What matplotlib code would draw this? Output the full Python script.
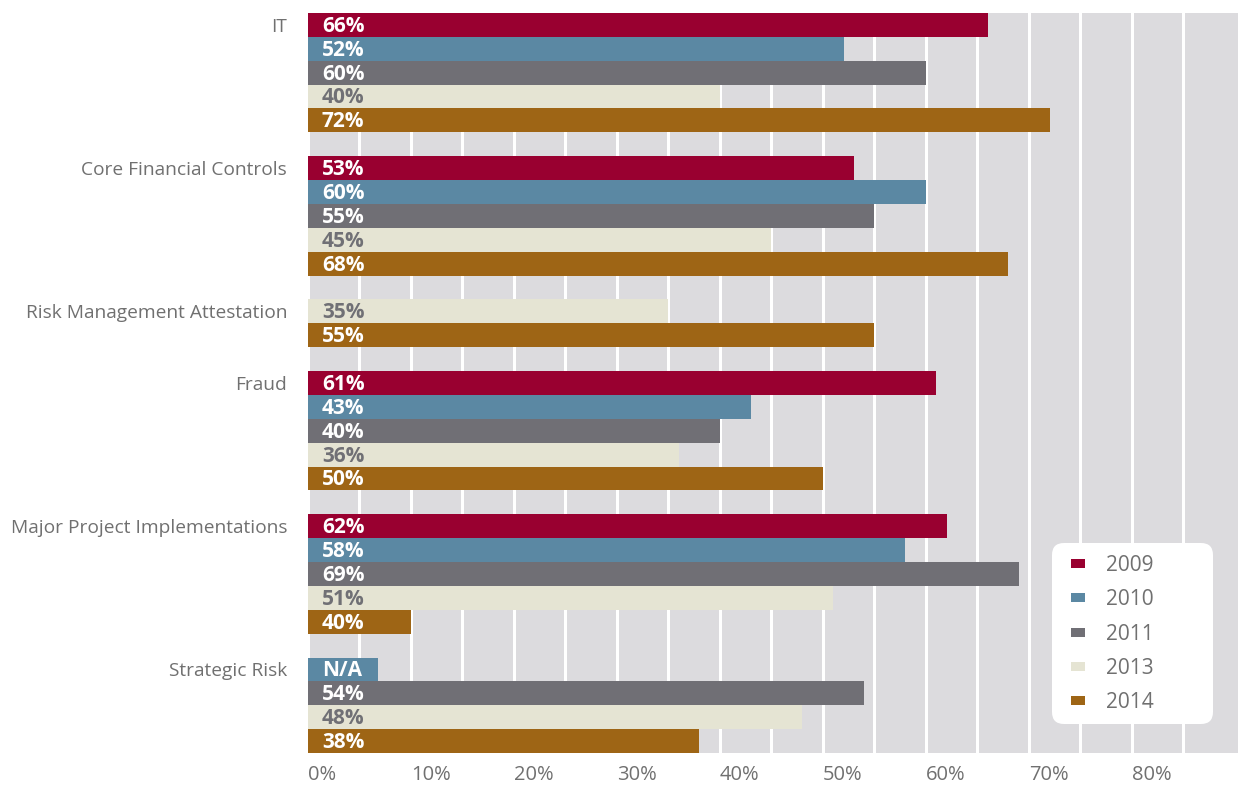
import matplotlib
matplotlib.use("Agg")
import matplotlib.pyplot as plt
from matplotlib.patches import Patch, FancyBboxPatch
from matplotlib.transforms import IdentityTransform

plt.rcParams['font.family'] = ['Open Sans', 'DejaVu Sans']

categories = ["IT", "Core Financial Controls", "Risk Management Attestation",
              "Fraud", "Major Project Implementations", "Strategic Risk"]
years = ["2009", "2010", "2011", "2013", "2014"]
colors = ["#990030", "#5b88a3", "#706f75", "#e5e4d3", "#9e6515"]
label_colors = ["white", "white", "white", "#707075", "white"]

# bar lengths (percent) as drawn, None = no bar
v2009 = [66, 53, None, 61, 62, None]
v2010 = [52, 60, None, 43, 58, 6.8]
v2011 = [60, 55, None, 40, 69, 54]
v2013 = [40, 45, 35, 36, 51, 48]
v2014 = [72, 68, 55, 50, 10, 38]

# printed labels
l2009 = ["66%", "53%", None, "61%", "62%", None]
l2010 = ["52%", "60%", None, "43%", "58%", "N/A"]
l2011 = ["60%", "55%", None, "40%", "69%", "54%"]
l2013 = ["40%", "45%", "35%", "36%", "51%", "48%"]
l2014 = ["72%", "68%", "55%", "50%", "40%", "38%"]

values = [v2009, v2010, v2011, v2013, v2014]
labels = [l2009, l2010, l2011, l2013, l2014]

gray = "#707070"

fig = plt.figure(figsize=(12.4, 7.87), dpi=100)
ax = fig.add_axes([308 / 1240, 34 / 787, 930 / 1240, 740 / 787])
ax.set_facecolor("#dcdbde")

slot = 0
first_slots = []
for i, cat in enumerate(categories):
    first = None
    for j in range(len(years)):
        v = values[j][i]
        if v is None:
            continue
        if first is None:
            first = slot
        ax.barh(slot, v, height=1.0, color=colors[j], zorder=3)
        ax.annotate(labels[j][i], (0, slot), xytext=(10, -1), textcoords="offset points",
                    va="center", ha="left", color=label_colors[j],
                    fontsize=15, fontweight="bold", zorder=4)
        slot += 1
    first_slots.append(first)
    slot += 1
n_slots = slot - 1

ax.set_ylim(n_slots - 0.5, -0.5)
ax.set_xlim(0, 90.3)

ax.set_xticks(range(0, 90, 10))
ax.set_xticklabels([f"{t}%" for t in range(0, 90, 10)], ha="left")
ax.set_xticks(range(5, 90, 10), minor=True)
ax.grid(True, axis="x", which="both", color="white", linewidth=2.2, zorder=1)
ax.set_axisbelow(True)

ax.set_yticks(first_slots)
ax.set_yticklabels(categories)

ax.tick_params(axis="x", which="both", length=0, pad=9, labelsize=14.5, labelcolor=gray)
ax.tick_params(axis="y", length=0, pad=15, labelsize=13.8, labelcolor=gray)
for sp in ax.spines.values():
    sp.set_visible(False)

# legend background box
box = FancyBboxPatch((1052, 787 - 724), 161, 181,
                     boxstyle="round,pad=0,rounding_size=12",
                     transform=IdentityTransform(), facecolor="white",
                     edgecolor="none", zorder=5)
fig.patches.append(box)

handles = [Patch(facecolor=c, edgecolor="none", label=y) for c, y in zip(colors, years)]
leg = fig.legend(handles=handles, loc="upper left",
                 bbox_to_anchor=(1071 / 1240, 1 - 555 / 787),
                 frameon=False, fontsize=15, borderpad=0, borderaxespad=0,
                 handlelength=0.67, handleheight=0.29, handletextpad=1.0,
                 labelspacing=0.64)
for t in leg.get_texts():
    t.set_color(gray)
leg.set_zorder(6)

fig.savefig("out.png", dpi=100)
